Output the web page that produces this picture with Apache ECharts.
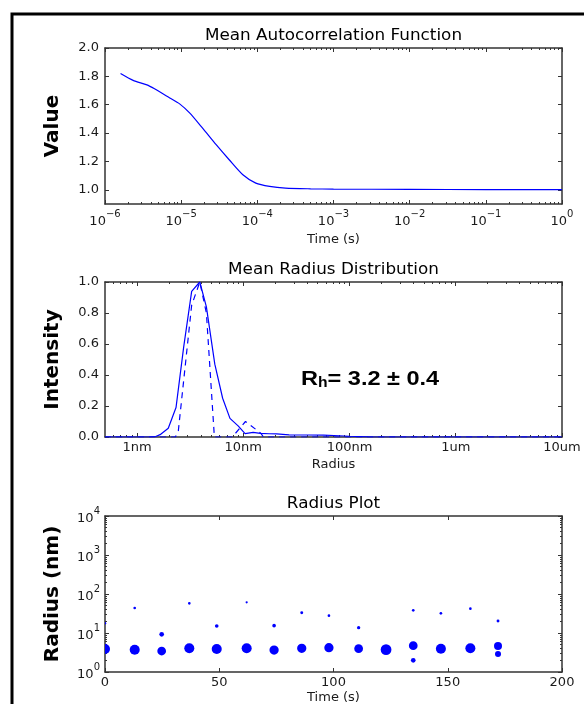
<!DOCTYPE html>
<html><head><meta charset="utf-8">
<script src="https://cdn.jsdelivr.net/npm/echarts@6/dist/echarts.min.js"></script>
<style>html,body{margin:0;padding:0;background:#fff;}#c{width:584px;height:704px;}</style>
</head><body><div id="c"></div>
<script>
// ---------- data ----------
const acfTime  = [1.6e-6, 2.34e-6, 3.55e-6, 4.47e-6, 7.08e-6, 9.55e-6, 1.29e-5, 1.9e-5, 2.88e-5, 4.27e-5, 6.46e-5, 9.55e-5, 1.45e-4, 2.34e-4, 5e-4, 1e-3, 1e-2, 1e-1, 1];
const acfValue = [1.82, 1.772, 1.74, 1.712, 1.648, 1.606, 1.542, 1.436, 1.318, 1.212, 1.106, 1.047, 1.024, 1.012, 1.007, 1.005, 1.003, 1.002, 1.002];
const acfXTicks = [1e-6, 1e-5, 1e-4, 1e-3, 1e-2, 1e-1, 1];
const acfYTicks = [1.0, 1.2, 1.4, 1.6, 1.8, 2.0];

const distRadius    = [0.5, 1.3, 1.5, 1.65, 1.97, 2.33, 2.75, 3.27, 3.9, 4.5, 5.4, 6.4, 7.5, 9.0, 10.4, 12.4, 14.5, 17.5, 20.6, 27, 40, 57, 80, 100, 150, 10000];
const distIntensity = [0, 0, 0.003, 0.015, 0.056, 0.19, 0.58, 0.94, 1.0, 0.84, 0.47, 0.25, 0.12, 0.07, 0.022, 0.03, 0.024, 0.021, 0.02, 0.014, 0.013, 0.012, 0.008, 0.005, 0.001, 0];
const fitRadius     = [0.5, 2.3, 2.45, 3.27, 3.9, 4.5, 5.35, 7.9, 10.5, 14.6, 15.5, 10000];
const fitIntensity  = [0, 0, 0.04, 0.85, 1.0, 0.8, 0, 0, 0.10, 0.025, 0, 0];
const distXTicks  = [1, 10, 100, 1000, 10000];
const distXLabels = ['1nm', '10nm', '100nm', '1um', '10um'];
const distYTicks  = [0, 0.2, 0.4, 0.6, 0.8, 1.0];

const scatTime   = [0, 0, 13.0, 13.0, 24.8, 24.8, 36.9, 36.9, 48.9, 48.9, 62.0, 62.0, 74.0, 74.0, 86.1, 86.1, 98.0, 98.0, 111.0, 111.0, 123.0, 134.9, 134.9, 134.9, 147.0, 147.0, 159.9, 159.9, 172.0, 172.0, 172.0];
const scatRadius = [3.89, 17.7, 3.73, 43.7, 3.45, 9.25, 4.05, 57.8, 3.89, 15.1, 4.05, 61, 3.66, 15.4, 4.05, 33, 4.2, 27.8, 3.96, 13.7, 3.74, 4.73, 38.2, 1.99, 3.96, 32, 4.05, 42, 4.64, 2.9, 20.3];
const scatWeight = [83, 5, 83, 6, 63, 18, 83, 6, 83, 11, 83, 4, 71, 11, 71, 7, 71, 6, 63, 9, 95, 63, 6, 18, 83, 6, 83, 6, 53, 30, 7];
const scatXTicks = [0, 50, 100, 150, 200];
const scatYTicks = [1, 10, 100, 1000, 10000];

// ---------- style ----------
const FONT = 'DejaVu Sans';
const BLUE = '#0000ff';
const AXC = '#333';
const TXT = '#1a1a1a';
const GL = 105, GW = 457;
const grids = [
  {left: GL, top: 48, width: GW, height: 156},
  {left: GL, top: 282, width: GW, height: 155},
  {left: GL, top: 516, width: GW, height: 156}
].map(g => Object.assign(g, {containLabel: false, outerBoundsMode: 'none'}));

function logMinor(min, max) {
  const out = [];
  for (let e = Math.floor(Math.log10(min)) - 1; e <= Math.ceil(Math.log10(max)); e++) {
    for (let k = 2; k <= 9; k++) {
      const v = k * Math.pow(10, e);
      if (v > min * 1.0001 && v < max * 0.9999) out.push(v);
    }
  }
  return out;
}
function supFmt(v) {
  const e = Math.round(Math.log10(v));
  return '{b|10}{s|' + (e < 0 ? '\u2212' + (-e) : e) + '}';
}
const supRich = {
  b: {fontSize: 13, fontFamily: FONT, color: TXT, lineHeight: 19, verticalAlign: 'bottom'},
  s: {fontSize: 10, fontFamily: FONT, color: TXT, lineHeight: 10, verticalAlign: 'top'}
};

const xAxes = [], yAxes = [];
function mkAxis(list, gridIndex, type, min, max, position, ticks, len, line, extra) {
  const a = {
    type, gridIndex, min, max, position, silent: true,
    axisLine: {show: !!line, onZero: false, lineStyle: {color: AXC, width: 1.5}},
    axisTick: {show: true, inside: true, length: len, customValues: ticks, lineStyle: {color: AXC, width: 1}},
    axisLabel: {show: false},
    splitLine: {show: false}, minorTick: {show: false}, minorSplitLine: {show: false},
    nameMoveOverlap: false
  };
  if (type === 'log') a.logBase = 10;
  Object.assign(a, extra || {});
  list.push(a);
  return list.length - 1;
}
function mkBox(gi, xType, xMin, xMax, xTicks, xMinor, yType, yMin, yMax, yTicks, yMinor, xExtra, yExtra) {
  const xi = mkAxis(xAxes, gi, xType, xMin, xMax, 'bottom', xTicks, 4, true, xExtra);
  const yi = mkAxis(yAxes, gi, yType, yMin, yMax, 'left', yTicks, 4, true, yExtra);
  mkAxis(xAxes, gi, xType, xMin, xMax, 'top', xTicks, 4, true);
  mkAxis(yAxes, gi, yType, yMin, yMax, 'right', yTicks, 4, true);
  if (xMinor) { mkAxis(xAxes, gi, xType, xMin, xMax, 'bottom', xMinor, 2, false); mkAxis(xAxes, gi, xType, xMin, xMax, 'top', xMinor, 2, false); }
  if (yMinor) { mkAxis(yAxes, gi, yType, yMin, yMax, 'left', yMinor, 2, false); mkAxis(yAxes, gi, yType, yMin, yMax, 'right', yMinor, 2, false); }
  return [xi, yi];
}
const nameX = (txt, gap) => ({name: txt, nameLocation: 'middle', nameGap: gap, nameTextStyle: {fontFamily: FONT, fontSize: 13, color: TXT}});
const nameY = (txt, gap) => ({name: txt, nameLocation: 'middle', nameGap: gap, nameTextStyle: {fontFamily: FONT, fontSize: 20, fontWeight: 'bold', color: '#000'}});
const tickLbl = (vals, fmt, margin, rich) => ({axisLabel: Object.assign({show: true, customValues: vals, formatter: fmt, margin, fontFamily: FONT, fontSize: 13, color: TXT, showMinLabel: true, showMaxLabel: true}, rich ? {rich} : {})});

const b0 = mkBox(0, 'log', 1e-6, 1, acfXTicks, logMinor(1e-6, 1), 'value', 0.9, 2.0, acfYTicks, null,
  Object.assign(nameX('Time (s)', 29), tickLbl(acfXTicks, supFmt, 5, supRich)),
  Object.assign(nameY('Value', 42), tickLbl(acfYTicks, v => v.toFixed(1), 6)));
const b1 = mkBox(1, 'log', 0.5, 10000, distXTicks, logMinor(0.5, 10000), 'value', 0, 1, distYTicks, null,
  Object.assign(nameX('Radius', 21), tickLbl(distXTicks, v => distXLabels[distXTicks.findIndex(t => Math.abs(t - v) < 1e-6 * t)], 4)),
  Object.assign(nameY('Intensity', 42), tickLbl(distYTicks, v => v.toFixed(1), 6)));
const b2 = mkBox(2, 'value', 0, 200, scatXTicks, null, 'log', 1, 10000, scatYTicks, logMinor(1, 10000),
  Object.assign(nameX('Time (s)', 19), tickLbl(scatXTicks, v => String(Math.round(v)), 4)),
  Object.assign(nameY('Radius (nm)', 42), tickLbl(scatYTicks, supFmt, 5, supRich)));

const zip = (a, b) => a.map((v, i) => [v, b[i]]);
const series = [
  {type: 'line', xAxisIndex: b0[0], yAxisIndex: b0[1], data: zip(acfTime, acfValue), showSymbol: false, smooth: 0.25,
   lineStyle: {color: BLUE, width: 1.2}, z: 3},
  {type: 'line', xAxisIndex: b1[0], yAxisIndex: b1[1], data: zip(distRadius, distIntensity), showSymbol: false,
   lineStyle: {color: BLUE, width: 1.2}, z: 3},
  {type: 'line', xAxisIndex: b1[0], yAxisIndex: b1[1], data: zip(fitRadius, fitIntensity), showSymbol: false,
   lineStyle: {color: BLUE, width: 1.2, type: [6, 5]}, z: 3},
  {type: 'custom', xAxisIndex: b2[0], yAxisIndex: b2[1], clip: true, z: 3,
   data: scatTime.map((t, i) => [t, scatRadius[i], scatWeight[i]]),
   encode: {x: 0, y: 1},
   renderItem: (params, api) => {
     const p = api.coord([api.value(0), api.value(1)]);
     const r = 5.5 * Math.sqrt(api.value(2) / 100);
     return {type: 'circle', shape: {cx: p[0], cy: p[1], r}, style: {fill: BLUE}};
   }}
];

const titleText = (txt, y) => ({type: 'text', x: GL + GW / 2, y, scaleX: 1.12,
  style: {text: txt, fontFamily: FONT, fontSize: 15, fill: '#000', align: 'center', verticalAlign: 'middle'}});

const option = {
  animation: false,
  backgroundColor: '#fff',
  grid: grids,
  xAxis: xAxes,
  yAxis: yAxes,
  series,
  graphic: [
    {type: 'rect', shape: {x: 12, y: 14, width: 640, height: 760}, style: {fill: 'none', stroke: '#000', lineWidth: 3}, silent: true},
    titleText('Mean Autocorrelation Function', 36),
    titleText('Mean Radius Distribution', 270),
    titleText('Radius Plot', 504),
    {type: 'text', x: 301, y: 378, scaleX: 1.12,
     style: {text: '{r|R}{h|h}{r|= 3.2 \u00b1 0.4}', fill: '#000', verticalAlign: 'middle', align: 'left',
       rich: {r: {fontFamily: 'Liberation Sans', fontWeight: 'bold', fontSize: 21, lineHeight: 24, verticalAlign: 'bottom', fill: '#000'},
              h: {fontFamily: 'Liberation Sans', fontWeight: 'bold', fontSize: 14, lineHeight: 18, verticalAlign: 'bottom', fill: '#000'}}}}
  ]
};
const chart = echarts.init(document.getElementById('c'));
chart.setOption(option);
</script></body></html>
